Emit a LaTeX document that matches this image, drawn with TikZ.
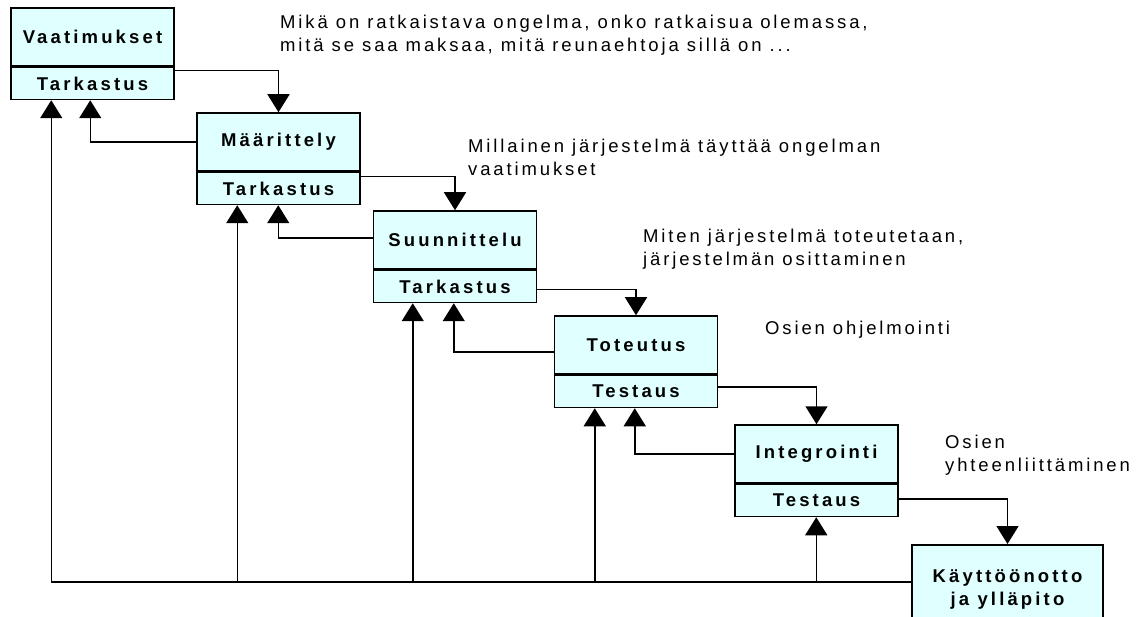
\documentclass[tikz,border=0pt]{standalone}
\usepackage{fontspec}
\setmainfont{Liberation Sans}
\newfontfamily\notefont[LetterSpace=15.5]{Liberation Sans}
\newfontfamily\stagefont[LetterSpace=17]{Liberation Sans}
\usetikzlibrary{arrows.meta}
\definecolor{stagefill}{RGB}{224,255,255}

\begin{document}
\begin{tikzpicture}[x=1pt,y=-1pt,
  stage/.style={draw=black, line width=1.5pt, fill=stagefill, minimum width=163pt,
    inner sep=0pt, align=center,
    font=\stagefont\bfseries\fontsize{18.5}{23}\selectfont},
  title/.style={stage, minimum height=58pt},
  check/.style={stage, minimum height=32pt, anchor=north},
  conn/.style={line width=1.5pt, -{Triangle[width=22pt,length=18pt]}},
  note/.style={anchor=north west, inner sep=0pt, align=left,
    font=\notefont\fontsize{18.5}{23}\selectfont}]

\useasboundingbox (0,0) rectangle (1140,617);
\clip (0,0) rectangle (1140,617);

% phases: title part and review part
\node[title] (v1) at (92.5,37)  {Vaatimukset};
\node[check] (t1) at (v1.south) {Tarkastus};
\node[title] (v2) at (278.5,142) {Määrittely};
\node[check] (t2) at (v2.south) {Tarkastus};
\node[title] (v3) at (455,240)  {Suunnittelu};
\node[check] (t3) at (v3.south) {Tarkastus};
\node[title] (v4) at (636,345)  {Toteutus};
\node[check] (t4) at (v4.south) {Testaus};
\node[title] (v5) at (816.5,454) {Integrointi};
\node[check] (t5) at (v5.south) {Testaus};
\node[stage, minimum width=191pt, minimum height=90pt, anchor=north] (k6) at (1007.5,544)
  {Käyttöönotto\\ja ylläpito};

% descriptions
\node[note] (n1) at (280,15) {Mikä on ratkaistava ongelma, onko ratkaisua olemassa,\\mitä se saa maksaa, mitä reunaehtoja sillä on ...};
\node[note] (n2) at (468,139) {Millainen järjestelmä täyttää ongelman\\vaatimukset};
\node[note] (n3) at (643,229) {Miten järjestelmä toteutetaan,\\järjestelmän osittaminen};
\node[note] (n4) at (765,321) {Osien ohjelmointi};
\node[note] (n5) at (945,435) {Osien\\yhteenliittäminen};

% forward flow
\draw[conn] ([yshift=-4pt]t1.north east)  -| (v2.north);
\draw[conn] ([yshift=-5pt]t2.north east)  -| (v3.north);
\draw[conn] ([yshift=-20pt]t3.north east) -| (v4.north);
\draw[conn] ([yshift=-12pt]t4.north east) -| (v5.north);
\draw[conn] ([yshift=-15pt]t5.north east) -| (k6.north);

% feedback to the previous phase
\draw[conn] (v2.west) -| ([xshift=80pt]t1.south west);
\draw[conn] ([yshift=2pt]v3.west) -| ([xshift=82pt]t2.south west);
\draw[conn] ([yshift=-7pt]v4.west) -| ([xshift=81pt]t3.south west);
\draw[conn] (v5.west) -| ([xshift=81pt]t4.south west);

% feedback from maintenance to every phase
\coordinate (bus) at ([yshift=8pt]k6.west);
\draw[conn] (bus) -| ([xshift=41pt]t1.south west);
\draw[conn] ([xshift=41pt]t2.south west |- bus) -- ([xshift=41pt]t2.south west);
\draw[conn] ([xshift=40pt]t3.south west |- bus) -- ([xshift=40pt]t3.south west);
\draw[conn] ([xshift=41pt]t4.south west |- bus) -- ([xshift=41pt]t4.south west);
\draw[conn] ([xshift=82pt]t5.south west |- bus) -- ([xshift=82pt]t5.south west);
\end{tikzpicture}
\end{document}
